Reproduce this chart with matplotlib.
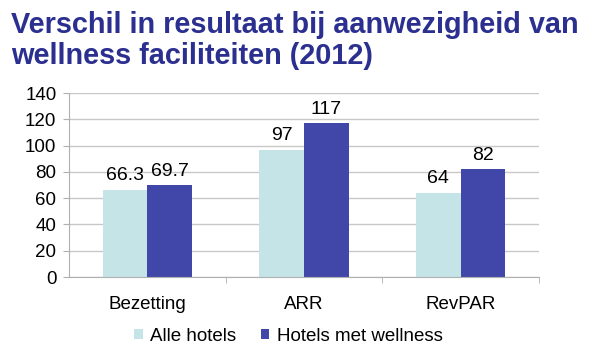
import numpy as np
import matplotlib.pyplot as plt

plt.rcParams['font.family'] = ['Liberation Sans', 'DejaVu Sans']

categories = ["Bezetting", "ARR", "RevPAR"]
alle_hotels = [66.3, 97, 64]
wellness_hotels = [69.7, 117, 82]
labels_alle = ["66.3", "97", "64"]
labels_wellness = ["69.7", "117", "82"]

fig = plt.figure(figsize=(5.95, 3.53), dpi=100)
ax = fig.add_axes([69 / 595, 1 - 277 / 353, (539 - 69) / 595, (277 - 93) / 353])

x = np.arange(len(categories))
w = 0.285
b1 = ax.bar(x - w / 2, alle_hotels, w, color="#c4e4e8", label="Alle hotels", zorder=2)
b2 = ax.bar(x + w / 2, wellness_hotels, w, color="#4047a8", label="Hotels met wellness", zorder=2)
ax.bar_label(b1, labels=labels_alle, padding=4, fontsize=14)
ax.bar_label(b2, labels=labels_wellness, padding=4, fontsize=14)

ax.set_xlim(-0.5, 2.5)
ax.set_ylim(0, 140)
ax.set_yticks(range(0, 141, 20))
ax.yaxis.grid(True, color="#c8c8c8", linewidth=1, zorder=0)
ax.set_axisbelow(True)
ax.set_xticks(x)
ax.set_xticklabels(categories, fontsize=13.5)
ax.set_xticks([0.5, 1.5, 2.5], minor=True)
ax.tick_params(axis="x", which="major", length=0, pad=14)
ax.tick_params(axis="x", which="minor", length=4, color="#b0b0b0")
ax.tick_params(axis="y", labelsize=13.5, length=4, color="#b0b0b0", pad=5)
for s in ["top", "right"]:
    ax.spines[s].set_visible(False)
ax.spines["left"].set_color("#b0b0b0")
ax.spines["bottom"].set_color("#b0b0b0")

fig.text(0.018, 0.968, "Verschil in resultaat bij aanwezigheid van\nwellness faciliteiten (2012)",
         fontsize=20.8, fontweight="bold", color="#2b2f8f", va="top", ha="left",
         linespacing=1.14)

fig.legend(loc="lower center", bbox_to_anchor=(0.485, -0.025), ncol=2, frameon=False,
           fontsize=13.5, handlelength=0.45, handleheight=0.45, handletextpad=0.4,
           columnspacing=1.3)

fig.savefig("out.png", dpi=100)
